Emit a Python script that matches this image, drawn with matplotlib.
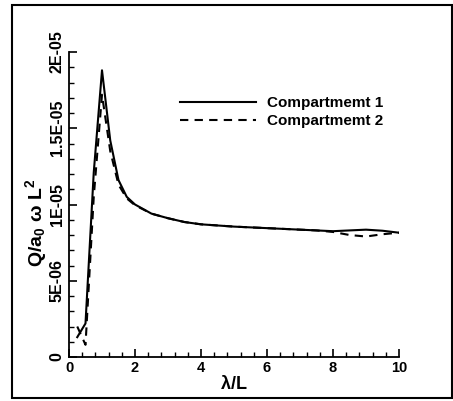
import matplotlib
matplotlib.use('Agg')
import matplotlib.pyplot as plt
from matplotlib.patches import Rectangle
from matplotlib.ticker import MultipleLocator
import numpy as np

plt.rcParams['font.family'] = ['Liberation Sans', 'DejaVu Sans']
plt.rcParams['font.weight'] = 'bold'
plt.rcParams['mathtext.fontset'] = 'custom'
plt.rcParams['mathtext.rm'] = 'Liberation Sans:bold'
plt.rcParams['mathtext.bf'] = 'Liberation Sans:bold'
plt.rcParams['mathtext.it'] = 'Liberation Sans:bold'

# wavelength ratio lambda/L
wave_ratio = [0.25, 0.5, 0.75, 1.0, 1.25, 1.5, 1.75, 2.0, 2.5, 3.0, 3.5, 4.0,
              5.0, 6.0, 7.0, 7.5, 8.0, 8.5, 9.0, 9.5, 10.0]
# Q / a0 omega L^2, in units of 1e-6
comp1 = [1.3, 2.2, 12.1, 18.8, 14.2, 11.6, 10.5, 10.0, 9.4, 9.1, 8.85, 8.7,
         8.55, 8.45, 8.35, 8.3, 8.25, 8.3, 8.35, 8.28, 8.15]
comp2 = [2.0, 0.8, 10.5, 17.2, 13.5, 11.3, 10.4, 9.95, 9.4, 9.1, 8.85, 8.7,
         8.55, 8.45, 8.35, 8.3, 8.2, 8.0, 7.9, 8.05, 8.15]
labels = ['Compartmemt 1', 'Compartmemt 2']

fig = plt.figure(figsize=(4.53, 4.01), dpi=100)
ax = fig.add_axes([69/453, 1 - 357/401, 330/453, 305/401])

x = np.array(wave_ratio)
ax.plot(x, np.array(comp1) * 1e-6, color='black', lw=1.5, label=labels[0])
ax.plot(x, np.array(comp2) * 1e-6, color='black', lw=1.5,
        dashes=(4, 3), label=labels[1])

ax.set_xlim(0, 10)
ax.set_ylim(0, 2e-5)
ax.xaxis.set_minor_locator(MultipleLocator(0.4))
ax.yaxis.set_minor_locator(MultipleLocator(1e-6))
ax.set_yticks([0, 5e-6, 1e-5, 1.5e-5, 2e-5])
ax.set_yticklabels(['0', '5E-06', '1E-05', '1.5E-05', '2E-05'],
                   rotation=90, va='center', fontsize=11.5, fontweight='bold')
ax.set_xticks([0, 2, 4, 6, 8, 10])
ax.set_xticklabels(['0', '2', '4', '6', '8', '10'], fontsize=10.5, fontweight='bold')

ax.tick_params(which='major', direction='in', length=6, width=1.2, pad=3)
ax.tick_params(which='minor', direction='in', length=3.5, width=1)
ax.spines['top'].set_visible(False)
ax.spines['right'].set_visible(False)
ax.spines['left'].set_linewidth(1.3)
ax.spines['bottom'].set_linewidth(1.3)

ax.set_xlabel(r'$\lambda$/L', fontsize=13, fontweight='bold', labelpad=0)
ax.set_ylabel(r'Q/a$_0$ $\omega$ L$^2$', fontsize=14, fontweight='bold')
ax.yaxis.set_label_coords(-0.062, 0.44)

ax.legend(loc='center left', bbox_to_anchor=(0.317, 0.803), frameon=False,
          prop={'size': 11, 'weight': 'bold'}, handlelength=5.0,
          handletextpad=0.7, labelspacing=0.25, borderaxespad=0)

fig.add_artist(Rectangle((12/453, 3/401), 440/453, 393/401, transform=fig.transFigure,
                         fill=False, edgecolor='black', lw=1.5))

fig.savefig('out.png', dpi=100)
